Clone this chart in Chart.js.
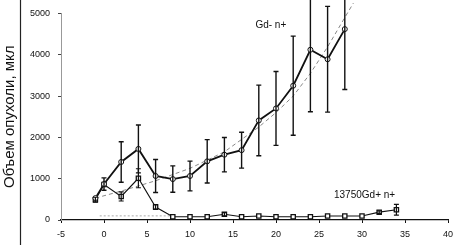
<!DOCTYPE html>
<html><head><meta charset="utf-8">
<script src="https://cdn.jsdelivr.net/npm/chart.js@4/dist/chart.umd.min.js"></script>
<style>html,body{margin:0;padding:0;background:#fff}#wrap{width:460px;height:245px;position:relative}</style>
</head><body><div id="wrap"><canvas id="c"></canvas></div>
<script>
const xTicks = [-5, 0, 5, 10, 15, 20, 25, 30, 35, 40];
const yTicks = [0, 1000, 2000, 3000, 4000, 5000];
const yTitle = 'Объем опухоли, мкл';
const seriesNames = ['Gd- n+', '13750Gd+ n+'];

const gdDays   = [-1, 0, 2, 4, 6, 8, 10, 12, 14, 16, 18, 20, 22, 24, 26, 28];
const gdVolume = [530, 870, 1405, 1720, 1065, 990, 1065, 1420, 1580, 1690, 2410, 2700, 3250, 4120, 3890, 4620];
const gdError  = [0, 150, 490, 580, 400, 320, 360, 525, 415, 435, 855, 895, 1200, 1500, 1280, 1460];

const gdPlusDays   = [-1, 0, 2, 4, 6, 8, 10, 12, 14, 16, 18, 20, 22, 24, 26, 28, 30, 32, 34];
const gdPlusVolume = [490, 860, 570, 1010, 315, 80, 80, 80, 140, 80, 95, 80, 80, 80, 95, 95, 95, 190, 250];
const gdPlusError  = [60, 0, 110, 230, 60, 0, 0, 0, 40, 0, 0, 0, 0, 0, 0, 0, 0, 30, 130];

const trendDays   = [-1, 2, 6, 10, 14, 16, 18, 20, 22, 24, 26, 28, 29];
const trendVolume = [530, 700, 950, 1250, 1650, 1950, 2250, 2600, 3000, 3550, 4190, 4900, 5250];

const lowTrendDays   = [-0.5, 8];
const lowTrendVolume = [100, 100];

const pts = (xs, ys) => xs.map((x, i) => ({x: x, y: ys[i]}));
const FONT = "'Liberation Sans', Arial, sans-serif";

const errorBars = {
  id: 'errorBars',
  afterDatasetsDraw(chart) {
    const ctx = chart.ctx, xs = chart.scales.x, ys = chart.scales.y;
    chart.data.datasets.forEach((ds) => {
      if (!ds.errors) return;
      ctx.save();
      ctx.strokeStyle = '#111';
      ctx.lineWidth = ds.errWidth || 1.3;
      ds.data.forEach((p, i) => {
        const e = ds.errors[i];
        if (!e) return;
        const px = xs.getPixelForValue(p.x);
        const top = ys.getPixelForValue(p.y + e);
        const bot = ys.getPixelForValue(p.y - e);
        ctx.beginPath();
        ctx.moveTo(px, top); ctx.lineTo(px, bot);
        ctx.moveTo(px - 2.5, top); ctx.lineTo(px + 2.5, top);
        ctx.moveTo(px - 2.5, bot); ctx.lineTo(px + 2.5, bot);
        ctx.stroke();
      });
      ctx.restore();
    });
  }
};

const extras = {
  id: 'extras',
  afterDraw(chart) {
    const ctx = chart.ctx, xs = chart.scales.x, ys = chart.scales.y;
    ctx.save();
    ctx.strokeStyle = '#222';
    ctx.lineWidth = 1.2;
    ctx.beginPath(); ctx.moveTo(20.5, 0); ctx.lineTo(20.5, 245); ctx.stroke();
    ctx.fillStyle = '#111';
    ctx.font = '10px ' + FONT;
    ctx.textAlign = 'center';
    ctx.textBaseline = 'middle';
    ctx.fillText(seriesNames[0], xs.getPixelForValue(19.4), ys.getPixelForValue(4715));
    ctx.fillText(seriesNames[1], xs.getPixelForValue(30.3), ys.getPixelForValue(590));
    ctx.restore();
  }
};

new Chart(document.getElementById('c'), {
  type: 'scatter',
  data: {
    datasets: [
      {
        data: pts(trendDays, trendVolume), showLine: true, borderColor: '#888',
        borderWidth: 1, borderDash: [4, 3], pointRadius: 0, clip: false, order: 5
      },
      {
        data: pts(lowTrendDays, lowTrendVolume), showLine: true, borderColor: '#aaa',
        borderWidth: 1, borderDash: [2, 2], pointRadius: 0, order: 6
      },
      {
        label: seriesNames[1], data: pts(gdPlusDays, gdPlusVolume), showLine: true,
        borderColor: '#111', borderWidth: 1.1, pointStyle: 'rect', pointRadius: 3,
        pointBackgroundColor: '#fff', pointBorderColor: '#111', pointBorderWidth: 1.3,
        errors: gdPlusError, errWidth: 1.2, order: 2
      },
      {
        label: seriesNames[0], data: pts(gdDays, gdVolume), showLine: true,
        borderColor: '#111', borderWidth: 1.8, pointStyle: 'circle', pointRadius: 2.5,
        pointBackgroundColor: '#fff', pointBorderColor: '#111', pointBorderWidth: 1,
        errors: gdError, errWidth: 1.4, order: 1
      }
    ]
  },
  options: {
    responsive: true, maintainAspectRatio: false, animation: false,
    layout: {padding: {left: 0, right: 12, top: 9, bottom: 0}},
    plugins: {legend: {display: false}, tooltip: {enabled: false}},
    scales: {
      x: {
        type: 'linear', min: -5, max: 40,
        afterBuildTicks: s => { s.ticks = xTicks.map(v => ({value: v})); },
        afterFit: s => { s.height = 25; },
        grid: {drawOnChartArea: false, drawTicks: true, tickLength: 3, color: '#111'},
        border: {color: '#111', width: 1.2},
        ticks: {font: {family: FONT, size: 9}, color: '#111', padding: 6, maxRotation: 0, callback: v => String(v)}
      },
      y: {
        type: 'linear', min: 0, max: 5000,
        afterBuildTicks: s => { s.ticks = yTicks.map(v => ({value: v})); },
        afterFit: s => { s.width = 61; },
        grid: {drawOnChartArea: false, drawTicks: true, tickLength: 3, color: '#444'},
        border: {color: '#999', width: 1},
        title: {display: true, text: yTitle, font: {family: FONT, size: 15}, color: '#111', padding: {top: 1, bottom: 0}},
        ticks: {font: {family: FONT, size: 9}, color: '#111', padding: 8, callback: v => String(v)}
      }
    }
  },
  plugins: [errorBars, extras]
});
</script>
</body></html>
